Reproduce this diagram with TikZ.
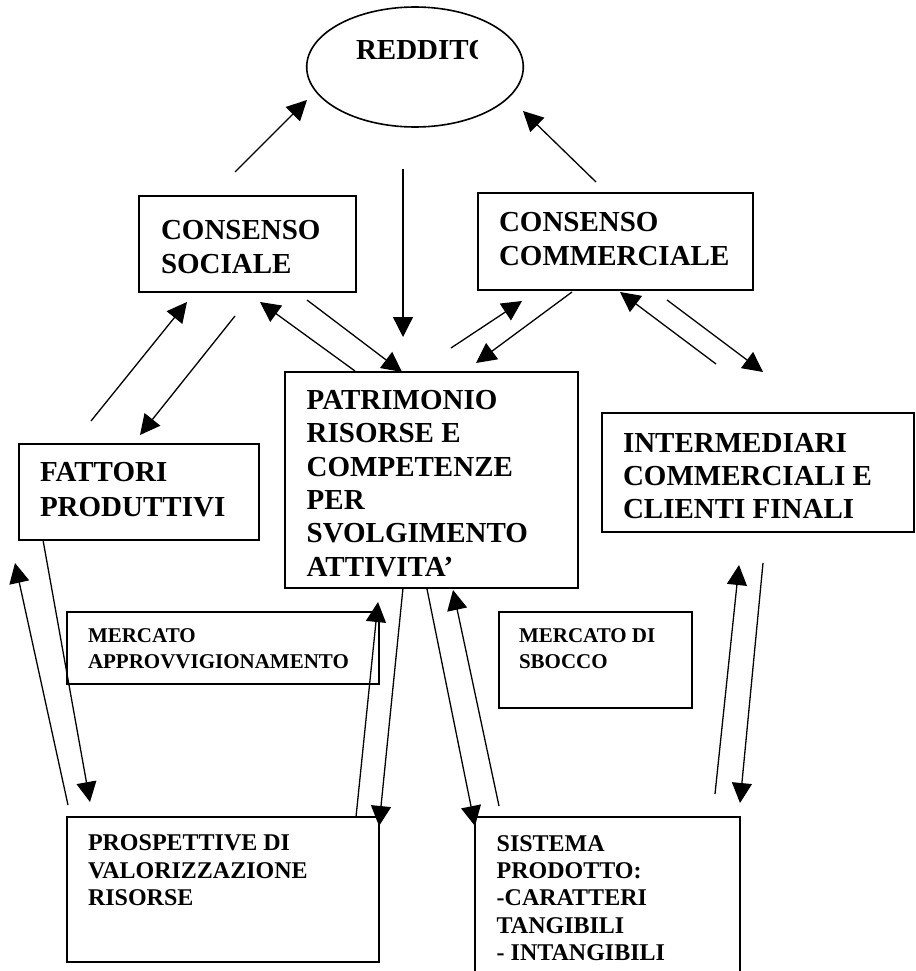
\documentclass[tikz,border=0pt]{standalone}
\usepackage{fontspec}
\setmainfont{Liberation Serif}
\usetikzlibrary{arrows.meta,shapes.geometric}
\tikzset{
  box/.style={draw, line width=1.8pt, rectangle, inner sep=0pt, outer sep=0pt, anchor=north west},
  oval/.style={draw, line width=1.6pt, ellipse, inner sep=0pt, outer sep=0pt},
  bigtxt/.style={font=\fontsize{29}{34}\selectfont\bfseries, inner sep=0pt, outer sep=0pt, anchor=base west},
  midtxt/.style={font=\fontsize{24}{27.6}\selectfont\bfseries, inner sep=0pt, outer sep=0pt, anchor=base west},
  smalltxt/.style={font=\fontsize{21}{25.5}\selectfont\bfseries, inner sep=0pt, outer sep=0pt, anchor=base west},
  arr/.style={line width=1.3pt, -{Triangle[length=20pt,width=20pt]}}
}
\begin{document}
\begin{tikzpicture}[x=1pt,y=-1pt]
\useasboundingbox (0,0) rectangle (915,971);
\clip (0,0) rectangle (915,971);
\fill[white] (0,0) rectangle (915,971);

% ellipse
\node[oval, minimum width=216.6pt, minimum height=120pt] (red) at (415,67) {};
\begin{scope}
  \clip (340,20) rectangle (477.3,80);
  \node[bigtxt] (redtxt) at (356,60) {REDDITO};
\end{scope}

% boxes
\node[box, minimum width=217pt, minimum height=96pt] (soc) at (139,196) {};
\node[bigtxt] (soctxt) at (161,239.3) {\vtop{\hbox{CONSENSO}\hbox{SOCIALE}}};

\node[box, minimum width=275pt, minimum height=97pt] (com) at (478,193) {};
\node[bigtxt] (comtxt) at (499,231.7) {\vtop{\hbox{CONSENSO}\hbox{COMMERCIALE}}};

\node[box, minimum width=293pt, minimum height=216pt] (pat) at (285,372) {};
\node[bigtxt] (pattxt) at (306.7,409.3) {\vtop{\baselineskip=33.4pt\hbox{PATRIMONIO}\hbox{RISORSE E}\hbox{COMPETENZE}\hbox{PER}\hbox{SVOLGIMENTO}\hbox{ATTIVITA’}}};

\node[box, minimum width=240pt, minimum height=96pt] (fat) at (19,444) {};
\node[bigtxt] (fattxt) at (40,481.7) {\vtop{\baselineskip=35pt\hbox{FATTORI}\hbox{PRODUTTIVI}}};

\node[box, minimum width=312pt, minimum height=119pt] (int) at (602,413) {};
\node[bigtxt] (inttxt) at (623,452.3) {\vtop{\baselineskip=33pt\hbox{INTERMEDIARI}\hbox{COMMERCIALI E}\hbox{CLIENTI FINALI}}};

\node[box, minimum width=312pt, minimum height=72pt] (mapp) at (67,612) {};
\node[smalltxt] (mapptxt) at (88,642.7) {\vtop{\hbox{MERCATO}\hbox{APPROVVIGIONAMENTO}}};

\node[box, minimum width=193pt, minimum height=96pt] (msb) at (499,612) {};
\node[smalltxt] (msbtxt) at (519,642.7) {\vtop{\hbox{MERCATO DI}\hbox{SBOCCO}}};

\node[box, minimum width=312pt, minimum height=145pt] (pro) at (67,817) {};
\node[midtxt] (protxt) at (88,850.7) {\vtop{\hbox{PROSPETTIVE DI}\hbox{VALORIZZAZIONE}\hbox{RISORSE}}};

\node[box, minimum width=265pt, minimum height=170pt] (sis) at (475,817) {};
\node[midtxt] (sistxt) at (496.7,851) {\vtop{\baselineskip=27.4pt\hbox{SISTEMA}\hbox{PRODOTTO:}\hbox{-CARATTERI}\hbox{TANGIBILI}\hbox{- INTANGIBILI}}};

% arrow end points
\coordinate (a1s) at (235,172);  \coordinate (a1e) at (307,100);
\coordinate (a2s) at (596,182);  \coordinate (a2e) at (523,111);
\coordinate (a3s) at (403,169);  \coordinate (a3e) at (403,337);
\coordinate (a4s) at (307,300);  \coordinate (a4e) at (402,372);
\coordinate (a5s) at (355,371);  \coordinate (a5e) at (260,302);
\coordinate (a6s) at (91,421);   \coordinate (a6e) at (187,302);
\coordinate (a7s) at (235,316);  \coordinate (a7e) at (140,435);
\coordinate (a8s) at (451,348);  \coordinate (a8e) at (522,301);
\coordinate (a9s) at (572,292);  \coordinate (a9e) at (476,363);
\coordinate (a10s) at (716,364); \coordinate (a10e) at (620,292);
\coordinate (a11s) at (667,300); \coordinate (a11e) at (763,372);
\coordinate (a12s) at (43,540);  \coordinate (a12e) at (90,802);
\coordinate (a13s) at (68,805);  \coordinate (a13e) at (15,563);
\coordinate (a14s) at (356,817); \coordinate (a14e) at (378,602);
\coordinate (a15s) at (403,588); \coordinate (a15e) at (379,826);
\coordinate (a16s) at (427,589); \coordinate (a16e) at (475,826);
\coordinate (a17s) at (499,806); \coordinate (a17e) at (453,590);
\coordinate (a18s) at (715,794); \coordinate (a18e) at (739,565);
\coordinate (a19s) at (763,563); \coordinate (a19e) at (740,803);

\foreach \i in {1,...,19} {
  \draw[arr] (a\i s) -- (a\i e);
}
\end{tikzpicture}
\end{document}
